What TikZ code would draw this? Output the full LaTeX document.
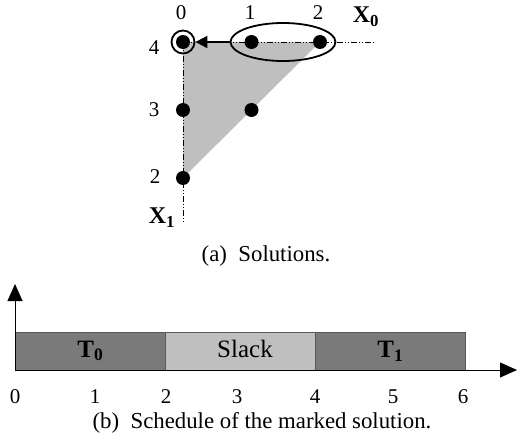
\documentclass[tikz,border=0pt]{standalone}
\usepackage{fontspec}
\setmainfont{Liberation Serif}
\usetikzlibrary{arrows.meta,shapes.geometric}
\begin{document}
\begin{tikzpicture}[x=1pt,y=-1pt,
  dot/.style={circle,fill=black,inner sep=0pt,minimum size=14pt},
  lbl/.style={inner sep=0pt,font=\fontsize{21}{24}\selectfont},
  axlbl/.style={inner sep=0pt,font=\fontsize{24}{26}\selectfont\bfseries},
  captext/.style={inner sep=0pt,font=\fontsize{22.8}{26}\selectfont},
  dashaxis/.style={line width=0.9pt,dash pattern=on 6pt off 2pt on 1pt off 2pt on 1pt off 2pt},
  tbox/.style={draw=black!65,fill=black!52,line width=0.8pt,minimum width=150pt,minimum height=38pt,inner sep=0pt,font=\fontsize{25}{27}\selectfont\bfseries},
  sbox/.style={draw=black!65,fill=black!25,line width=0.8pt,minimum width=150pt,minimum height=38pt,inner sep=0pt},
  bigtip/.style={-{Triangle[length=17pt,width=15pt]},line width=0.9pt}
]
\useasboundingbox (0,0) rectangle (517,444);
% --- (a) solutions ---
\fill[black!25] (183,42) -- (320,42) -- (183,178) -- cycle;
\coordinate (xend) at (374,42);
\coordinate (yend) at (183,223);
\coordinate (corner) at (183,42);
\draw[dashaxis] (corner) -- (xend);
\draw[dashaxis] (corner) -- (yend);
\node[dot] (d04) at (183,42) {};
\node[circle,draw,line width=1.8pt,minimum size=23pt,inner sep=0pt] (ring) at (183,42) {};
\node[dot] (d14) at (251.5,42) {};
\node[dot] (d24) at (320,42) {};
\node[dot] (d03) at (183,110) {};
\node[dot] (d13) at (251.5,110) {};
\node[dot] (d02) at (183,178) {};
\node[ellipse,draw,line width=1.8pt,minimum width=105pt,minimum height=38pt,inner sep=0pt] (ell) at (283,42) {};
\draw[-{Triangle[length=12pt,width=12pt]},line width=1.8pt] (ell.west) -- (ring.east);
\node[lbl] (c0) at (181,13) {0};
\node[lbl] (c1) at (250,13) {1};
\node[lbl] (c2) at (318,13) {2};
\node[lbl] (r4) at (154,48) {4};
\node[lbl] (r3) at (154,110) {3};
\node[lbl] (r2) at (155,177) {2};
\node[axlbl] (x0) at (366,17) {X\textsubscript{0}};
\node[axlbl] (x1) at (162,218) {X\textsubscript{1}};
\node[captext] (capa) at (266,256) {(a)\ \ Solutions.};
% --- (b) schedule ---
\coordinate (o) at (15,370);
\coordinate (ytip) at (15,284);
\coordinate (xtip) at (517,370);
\node[tbox] (t0) at (90.3,351) {T\textsubscript{0}};
\node[sbox] (sl) at (240.3,351) {};
\node[inner sep=0pt,font=\fontsize{25}{27}\selectfont] (sltext) at (245,349) {Slack};
\node[tbox] (t1) at (390.3,351) {T\textsubscript{1}};
\draw[bigtip] (o) -- (ytip);
\draw[bigtip] (o) -- (xtip);
\node[lbl] (k0) at (15,397) {0};
\node[lbl] (k1) at (95,397) {1};
\node[lbl] (k2) at (166,397) {2};
\node[lbl] (k3) at (237,397) {3};
\node[lbl] (k4) at (315,397) {4};
\node[lbl] (k5) at (393,397) {5};
\node[lbl] (k6) at (463,397) {6};
\node[captext] (capb) at (262,423) {(b)\ \ Schedule of the marked solution.};
\end{tikzpicture}
\end{document}
